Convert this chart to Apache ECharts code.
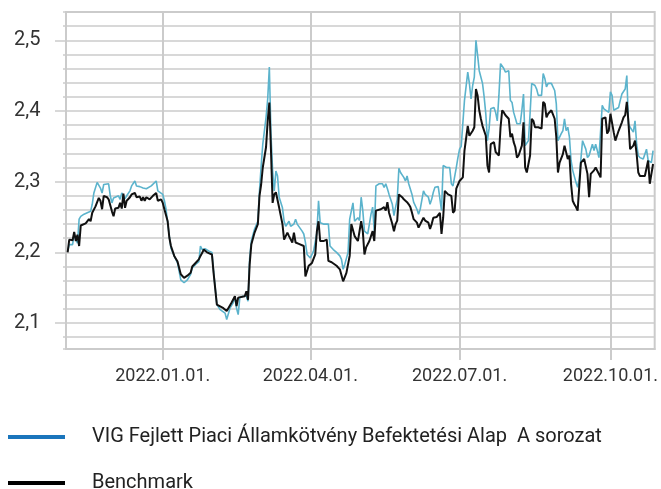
<!DOCTYPE html>
<html>
<head>
<meta charset="utf-8">
<script src="https://cdn.jsdelivr.net/npm/echarts@6/dist/echarts.min.js"></script>
<style>
html,body{margin:0;padding:0;background:#fff;}
#c{width:661px;height:489px;}
</style>
</head>
<body>
<div id="c"></div>
<script>
const fundName = 'VIG Fejlett Piaci Államkötvény Befektetési Alap  A sorozat';
const benchName = 'Benchmark';

const fundDates = [
'2021-11-04','2021-11-05','2021-11-07','2021-11-08','2021-11-10','2021-11-11','2021-11-12','2021-11-14','2021-11-16','2021-11-18',
'2021-11-19','2021-11-20','2021-11-22','2021-11-24','2021-11-25','2021-11-26','2021-11-27','2021-11-29','2021-11-30','2021-12-01',
'2021-12-02','2021-12-03','2021-12-05','2021-12-06','2021-12-07','2021-12-08','2021-12-09','2021-12-10','2021-12-12','2021-12-13',
'2021-12-14','2021-12-15','2021-12-16','2021-12-18','2021-12-20','2021-12-21','2021-12-22','2021-12-23','2021-12-25','2021-12-26',
'2021-12-28','2021-12-29','2021-12-30','2022-01-01','2022-01-02','2022-01-03','2022-01-05','2022-01-06','2022-01-08','2022-01-10',
'2022-01-11','2022-01-12','2022-01-14','2022-01-16','2022-01-18','2022-01-19','2022-01-21','2022-01-23','2022-01-24','2022-01-25',
'2022-01-27','2022-01-29','2022-01-31','2022-02-01','2022-02-02','2022-02-03','2022-02-05','2022-02-08','2022-02-09','2022-02-11',
'2022-02-13','2022-02-14','2022-02-15','2022-02-16','2022-02-17','2022-02-19','2022-02-21','2022-02-22','2022-02-23','2022-02-24',
'2022-02-26','2022-02-28','2022-03-01','2022-03-02','2022-03-03','2022-03-05','2022-03-06','2022-03-07','2022-03-08','2022-03-09',
'2022-03-10','2022-03-11','2022-03-12','2022-03-13','2022-03-15','2022-03-16','2022-03-17','2022-03-19','2022-03-20','2022-03-22',
'2022-03-23','2022-03-24','2022-03-27','2022-03-28','2022-03-29','2022-03-30','2022-04-01','2022-04-03','2022-04-05','2022-04-06',
'2022-04-07','2022-04-09','2022-04-12','2022-04-13','2022-04-15','2022-04-17','2022-04-19','2022-04-20','2022-04-21','2022-04-22',
'2022-04-24','2022-04-25','2022-04-27','2022-04-28','2022-04-30','2022-05-01','2022-05-02','2022-05-03','2022-05-04','2022-05-06',
'2022-05-07','2022-05-08','2022-05-09','2022-05-10','2022-05-11','2022-05-13','2022-05-15','2022-05-16','2022-05-17','2022-05-18',
'2022-05-19','2022-05-21','2022-05-22','2022-05-23','2022-05-24','2022-05-25','2022-05-26','2022-05-28','2022-05-29','2022-05-30',
'2022-05-31','2022-06-02','2022-06-03','2022-06-05','2022-06-06','2022-06-07','2022-06-09','2022-06-10','2022-06-12','2022-06-13',
'2022-06-14','2022-06-15','2022-06-16','2022-06-18','2022-06-19','2022-06-20','2022-06-21','2022-06-23','2022-06-25','2022-06-26',
'2022-06-27','2022-06-29','2022-06-30','2022-07-01','2022-07-02','2022-07-03','2022-07-04','2022-07-06','2022-07-07','2022-07-08',
'2022-07-09','2022-07-10','2022-07-11','2022-07-12','2022-07-13','2022-07-15','2022-07-16','2022-07-17','2022-07-18','2022-07-19',
'2022-07-20','2022-07-21','2022-07-22','2022-07-23','2022-07-24','2022-07-25','2022-07-26','2022-07-28','2022-07-29','2022-07-31',
'2022-08-01','2022-08-02','2022-08-03','2022-08-05','2022-08-07','2022-08-08','2022-08-09','2022-08-10','2022-08-11','2022-08-12',
'2022-08-13','2022-08-14','2022-08-16','2022-08-17','2022-08-18','2022-08-20','2022-08-21','2022-08-22','2022-08-23','2022-08-24',
'2022-08-26','2022-08-28','2022-08-29','2022-08-30','2022-09-01','2022-09-02','2022-09-03','2022-09-04','2022-09-05','2022-09-06',
'2022-09-07','2022-09-08','2022-09-10','2022-09-11','2022-09-12','2022-09-13','2022-09-14','2022-09-16','2022-09-17','2022-09-18',
'2022-09-19','2022-09-20','2022-09-21','2022-09-22','2022-09-23','2022-09-24','2022-09-26','2022-09-27','2022-09-28','2022-09-30',
'2022-10-01','2022-10-02','2022-10-03','2022-10-04','2022-10-06','2022-10-07','2022-10-08','2022-10-10','2022-10-11','2022-10-12',
'2022-10-13','2022-10-15','2022-10-16','2022-10-17','2022-10-18','2022-10-19','2022-10-21','2022-10-22','2022-10-23','2022-10-24',
'2022-10-26','2022-10-27'
];
const fundValues = [
2.202,2.211,2.211,2.225,2.213,2.247,2.251,2.254,2.256,2.258,
2.268,2.284,2.299,2.291,2.284,2.296,2.297,2.297,2.280,2.270,
2.277,2.275,2.280,2.275,2.284,2.285,2.276,2.280,2.287,2.294,
2.295,2.301,2.294,2.293,2.291,2.289,2.290,2.291,2.294,2.296,
2.301,2.287,2.285,2.282,2.273,2.261,2.223,2.206,2.195,2.185,
2.183,2.161,2.157,2.161,2.169,2.178,2.183,2.187,2.209,2.204,
2.205,2.202,2.200,2.173,2.171,2.126,2.119,2.114,2.105,2.121,
2.129,2.138,2.121,2.112,2.136,2.138,2.138,2.131,2.192,2.216,
2.233,2.244,2.287,2.322,2.353,2.391,2.417,2.462,2.367,2.315,
2.287,2.315,2.308,2.278,2.263,2.244,2.237,2.244,2.237,2.240,
2.247,2.240,2.230,2.226,2.214,2.197,2.192,2.202,2.228,2.273,
2.242,2.240,2.240,2.209,2.204,2.200,2.195,2.190,2.176,2.183,
2.200,2.247,2.270,2.244,2.249,2.245,2.278,2.259,2.230,2.226,
2.240,2.254,2.264,2.230,2.294,2.297,2.297,2.292,2.297,2.290,
2.282,2.268,2.252,2.264,2.275,2.319,2.313,2.306,2.301,2.308,
2.297,2.282,2.271,2.261,2.254,2.261,2.287,2.282,2.278,2.268,
2.275,2.285,2.292,2.293,2.292,2.259,2.323,2.320,2.320,2.297,
2.294,2.320,2.334,2.346,2.350,2.351,2.415,2.455,2.439,2.417,
2.436,2.448,2.500,2.479,2.457,2.439,2.420,2.396,2.358,2.375,
2.403,2.403,2.405,2.398,2.386,2.422,2.467,2.460,2.455,2.457,
2.415,2.412,2.398,2.382,2.382,2.401,2.424,2.351,2.353,2.358,
2.396,2.439,2.436,2.431,2.422,2.422,2.453,2.446,2.434,2.439,
2.439,2.429,2.410,2.358,2.368,2.372,2.389,2.372,2.377,2.363,
2.330,2.316,2.299,2.292,2.304,2.332,2.358,2.346,2.334,2.337,
2.339,2.353,2.344,2.353,2.344,2.334,2.408,2.403,2.403,2.398,
2.427,2.422,2.401,2.401,2.405,2.415,2.424,2.431,2.450,2.382,
2.377,2.370,2.386,2.353,2.337,2.334,2.332,2.334,2.346,2.330,
2.327,2.344
];

const benchDates = [
'2021-11-04','2021-11-05','2021-11-07','2021-11-08','2021-11-09','2021-11-10','2021-11-11','2021-11-12','2021-11-15','2021-11-16',
'2021-11-17','2021-11-18','2021-11-19','2021-11-21','2021-11-23','2021-11-24','2021-11-25','2021-11-26','2021-11-27','2021-11-28',
'2021-11-29','2021-11-30','2021-12-01','2021-12-02','2021-12-03','2021-12-05','2021-12-06','2021-12-07','2021-12-08','2021-12-09',
'2021-12-10','2021-12-12','2021-12-13','2021-12-14','2021-12-15','2021-12-16','2021-12-18','2021-12-19','2021-12-20','2021-12-21',
'2021-12-22','2021-12-24','2021-12-26','2021-12-28','2021-12-29','2021-12-31','2022-01-01','2022-01-02','2022-01-04','2022-01-05',
'2022-01-06','2022-01-08','2022-01-10','2022-01-11','2022-01-12','2022-01-14','2022-01-16','2022-01-18','2022-01-19','2022-01-21',
'2022-01-23','2022-01-24','2022-01-25','2022-01-26','2022-01-28','2022-01-31','2022-02-01','2022-02-02','2022-02-03','2022-02-04',
'2022-02-07','2022-02-09','2022-02-10','2022-02-12','2022-02-14','2022-02-15','2022-02-16','2022-02-17','2022-02-20','2022-02-21',
'2022-02-22','2022-02-23','2022-02-24','2022-02-26','2022-02-28','2022-03-01','2022-03-02','2022-03-03','2022-03-05','2022-03-06',
'2022-03-07','2022-03-08','2022-03-09','2022-03-10','2022-03-11','2022-03-13','2022-03-15','2022-03-16','2022-03-18','2022-03-19',
'2022-03-21','2022-03-22','2022-03-23','2022-03-25','2022-03-26','2022-03-28','2022-03-29','2022-03-31','2022-04-02','2022-04-04',
'2022-04-05','2022-04-06','2022-04-07','2022-04-09','2022-04-11','2022-04-12','2022-04-14','2022-04-17','2022-04-19','2022-04-21',
'2022-04-23','2022-04-25','2022-04-26','2022-04-28','2022-04-30','2022-05-02','2022-05-03','2022-05-04','2022-05-05','2022-05-07',
'2022-05-09','2022-05-10','2022-05-11','2022-05-12','2022-05-14','2022-05-16','2022-05-17','2022-05-18','2022-05-19','2022-05-21',
'2022-05-22','2022-05-23','2022-05-24','2022-05-25','2022-05-27','2022-05-28','2022-05-30','2022-05-31','2022-06-01','2022-06-02',
'2022-06-03','2022-06-05','2022-06-06','2022-06-07','2022-06-09','2022-06-10','2022-06-12','2022-06-13','2022-06-14','2022-06-15',
'2022-06-17','2022-06-18','2022-06-19','2022-06-20','2022-06-21','2022-06-22','2022-06-24','2022-06-25','2022-06-26','2022-06-27',
'2022-06-28','2022-06-29','2022-07-01','2022-07-03','2022-07-04','2022-07-06','2022-07-07','2022-07-09','2022-07-10','2022-07-11',
'2022-07-12','2022-07-13','2022-07-14','2022-07-15','2022-07-17','2022-07-18','2022-07-19','2022-07-20','2022-07-22','2022-07-23',
'2022-07-25','2022-07-26','2022-07-27','2022-07-28','2022-07-29','2022-07-31','2022-08-01','2022-08-02','2022-08-03','2022-08-04',
'2022-08-05','2022-08-06','2022-08-07','2022-08-08','2022-08-09','2022-08-10','2022-08-11','2022-08-12','2022-08-13','2022-08-14',
'2022-08-15','2022-08-16','2022-08-18','2022-08-20','2022-08-21','2022-08-22','2022-08-23','2022-08-24','2022-08-26','2022-08-28',
'2022-08-29','2022-08-30','2022-08-31','2022-09-02','2022-09-03','2022-09-04','2022-09-05','2022-09-06','2022-09-07','2022-09-08',
'2022-09-09','2022-09-10','2022-09-11','2022-09-13','2022-09-15','2022-09-17','2022-09-18','2022-09-19','2022-09-21','2022-09-22',
'2022-09-23','2022-09-25','2022-09-26','2022-09-28','2022-09-29','2022-09-30','2022-10-01','2022-10-03','2022-10-04','2022-10-05',
'2022-10-06','2022-10-08','2022-10-09','2022-10-10','2022-10-11','2022-10-12','2022-10-13','2022-10-15','2022-10-16','2022-10-17',
'2022-10-18','2022-10-19','2022-10-22','2022-10-23','2022-10-24','2022-10-25','2022-10-26','2022-10-27'
];
const benchValues = [
2.200,2.218,2.217,2.229,2.216,2.225,2.209,2.238,2.241,2.243,
2.247,2.244,2.256,2.265,2.277,2.273,2.261,2.280,2.281,2.278,
2.275,2.275,2.258,2.251,2.262,2.263,2.270,2.262,2.283,2.263,
2.273,2.278,2.282,2.280,2.284,2.278,2.279,2.273,2.278,2.273,
2.278,2.275,2.280,2.284,2.273,2.275,2.270,2.261,2.244,2.221,
2.209,2.195,2.187,2.185,2.169,2.164,2.167,2.171,2.180,2.185,
2.190,2.195,2.199,2.204,2.200,2.197,2.171,2.171,2.126,2.124,
2.121,2.117,2.121,2.129,2.138,2.124,2.136,2.138,2.138,2.145,
2.133,2.183,2.211,2.228,2.240,2.280,2.296,2.320,2.349,2.386,
2.412,2.344,2.270,2.282,2.285,2.263,2.240,2.218,2.228,2.223,
2.214,2.228,2.214,2.212,2.214,2.209,2.166,2.181,2.185,2.197,
2.230,2.244,2.216,2.216,2.218,2.188,2.186,2.181,2.176,2.159,
2.171,2.195,2.240,2.223,2.216,2.244,2.230,2.197,2.207,2.216,
2.230,2.216,2.259,2.261,2.261,2.264,2.259,2.271,2.256,2.240,
2.230,2.240,2.245,2.282,2.278,2.275,2.271,2.268,2.264,2.256,
2.247,2.242,2.235,2.237,2.249,2.245,2.242,2.233,2.240,2.249,
2.250,2.252,2.256,2.226,2.249,2.287,2.282,2.282,2.280,2.256,
2.259,2.290,2.301,2.306,2.344,2.379,2.365,2.372,2.377,2.431,
2.422,2.401,2.389,2.379,2.365,2.323,2.313,2.353,2.356,2.342,
2.337,2.377,2.401,2.398,2.394,2.389,2.363,2.368,2.356,2.349,
2.334,2.337,2.339,2.351,2.384,2.320,2.313,2.311,2.337,2.389,
2.386,2.377,2.377,2.375,2.413,2.410,2.391,2.396,2.401,2.389,
2.363,2.313,2.327,2.339,2.351,2.353,2.332,2.337,2.297,2.273,
2.268,2.264,2.259,2.327,2.332,2.311,2.278,2.311,2.316,2.320,
2.318,2.306,2.389,2.391,2.368,2.372,2.396,2.370,2.358,2.365,
2.372,2.384,2.391,2.394,2.413,2.384,2.346,2.351,2.358,2.339,
2.313,2.308,2.308,2.308,2.330,2.297,2.311,2.325
];

const xTickDates = ['2022-01-01','2022-04-01','2022-07-01','2022-10-01'];
const yMajorTicks = [2.1, 2.2, 2.3, 2.4, 2.5];
const xRange = ['2021-11-03', '2022-10-28'];
const yRange = [2.0633, 2.54];

function ts(s) {
  const p = s.split('-').map(Number);
  return new Date(p[0], p[1] - 1, p[2]).getTime();
}
function fmtDate(v) {
  const d = new Date(v);
  const p = n => (n < 10 ? '0' : '') + n;
  return d.getFullYear() + '.' + p(d.getMonth() + 1) + '.' + p(d.getDate()) + '.';
}

const gridGrey = '#cbcbcb';
const xTicks = xTickDates.map(ts);
const chart = echarts.init(document.getElementById('c'), null, {renderer: 'canvas'});

const legendText = {fontSize: 20, color: '#222', lineHeight: 24, padding: [0, 0, 0, 22], fontFamily: 'Roboto'};

chart.setOption({
  animation: false,
  backgroundColor: '#ffffff',
  textStyle: {fontFamily: 'Roboto'},
  grid: {left: 66, top: 12, right: 2, bottom: 140, show: true, borderColor: gridGrey, borderWidth: 2, backgroundColor: 'transparent'},
  xAxis: {
    type: 'value',
    min: ts(xRange[0]),
    max: ts(xRange[1]),
    axisLine: {show: true, lineStyle: {color: gridGrey, width: 2}},
    axisTick: {show: true, customValues: xTicks, length: 11, lineStyle: {color: gridGrey, width: 2}},
    axisLabel: {customValues: xTicks, formatter: fmtDate, color: '#333', fontSize: 18, margin: 18, fontFamily: 'Roboto', hideOverlap: false},
    splitLine: {show: true, lineStyle: {color: gridGrey, width: 2}}
  },
  yAxis: [
    {
      type: 'value', position: 'left',
      min: yRange[0], max: yRange[1],
      minInterval: 0.02, maxInterval: 0.02, splitNumber: 24,
      axisLine: {show: true, lineStyle: {color: gridGrey, width: 2}},
      axisTick: {show: true, length: 3, lineStyle: {color: gridGrey, width: 1.5}},
      axisLabel: {show: false},
      splitLine: {show: true, lineStyle: {color: gridGrey, width: 1.5}}
    },
    {
      type: 'value', position: 'left',
      min: yRange[0], max: yRange[1],
      minInterval: 0.1, maxInterval: 0.1, splitNumber: 5,
      axisLine: {show: false},
      axisTick: {show: true, customValues: yMajorTicks, length: 11, lineStyle: {color: gridGrey, width: 1.5}},
      axisLabel: {
        customValues: yMajorTicks,
        formatter: v => v.toFixed(1).replace('.', ','),
        color: '#333', fontSize: 20, margin: 52, align: 'left', fontFamily: 'Roboto'
      },
      splitLine: {show: false}
    }
  ],
  legend: [
    {
      orient: 'vertical', left: 8, top: 425, padding: 0,
      itemWidth: 57, itemHeight: 4, icon: 'rect', selectedMode: false,
      textStyle: legendText,
      data: [{name: fundName, itemStyle: {color: '#1a75bc'}}]
    },
    {
      orient: 'vertical', left: 8, top: 471, padding: 0,
      itemWidth: 57, itemHeight: 4, icon: 'rect', selectedMode: false,
      textStyle: legendText,
      data: [{name: benchName, itemStyle: {color: '#000000'}}]
    }
  ],
  series: [
    {
      name: fundName, type: 'line', yAxisIndex: 0, showSymbol: false, symbol: 'none',
      lineStyle: {color: '#5bb3cc', width: 1.6}, itemStyle: {color: '#5bb3cc'},
      data: fundDates.map((d, i) => [ts(d), fundValues[i]])
    },
    {
      name: benchName, type: 'line', yAxisIndex: 0, showSymbol: false, symbol: 'none',
      lineStyle: {color: '#111111', width: 2}, itemStyle: {color: '#111111'},
      data: benchDates.map((d, i) => [ts(d), benchValues[i]])
    }
  ]
});
</script>
</body>
</html>
